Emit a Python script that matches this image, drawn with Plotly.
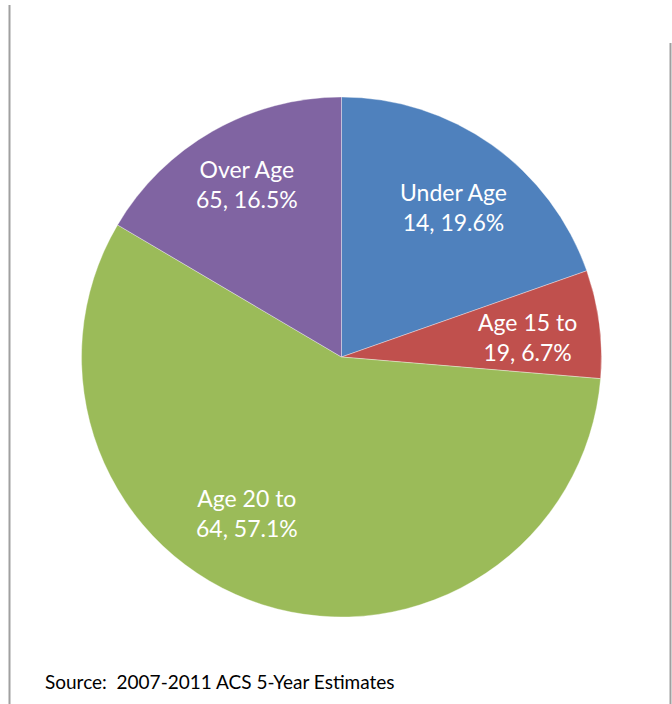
import math
import plotly.graph_objects as go

# Population share by age group
groups = ["Under Age 14", "Age 15 to 19", "Age 20 to 64", "Over Age 65"]
label_lines = [["Under Age", "14"], ["Age 15 to", "19"], ["Age 20 to", "64"], ["Over Age", "65"]]
shares = [19.6, 6.7, 57.1, 16.5]
colors = ["#4F81BD", "#C0504D", "#9BBB59", "#8064A2"]

# label placement: radial fraction and angular nudge (degrees) from each slice's mid-angle
label_radius = [0.72, 0.72, 0.70, 0.76]
label_nudge = [1.5, 1.3, 13.5, 1.0]

W, H = 672, 704
cx, cy, R = 341.5, 357.0, 260.0

fig = go.Figure(go.Pie(
    labels=groups,
    values=shares,
    sort=False,
    direction="clockwise",
    rotation=0,
    marker=dict(colors=colors, line=dict(color="rgba(255,255,255,0.45)", width=0.8)),
    textinfo="none",
    hoverinfo="label+percent",
    domain=dict(x=[(cx - R) / W, (cx + R) / W], y=[(H - cy - R) / H, (H - cy + R) / H]),
    showlegend=False,
))

total = sum(shares)
cum = 0.0
for lines, v, rf, nudge in zip(label_lines, shares, label_radius, label_nudge):
    mid = (cum + v / 2) / total * 360 + nudge
    cum += v
    px = cx + rf * R * math.sin(math.radians(mid))
    py = cy - rf * R * math.cos(math.radians(mid))
    fig.add_annotation(
        x=px / W, y=1 - py / H, xref="paper", yref="paper",
        xanchor="center", yanchor="middle",
        text=f"{lines[0]}<br>{lines[1]}, {v:.1f}%",
        showarrow=False, align="center",
        font=dict(family="Lato, Open Sans, sans-serif", size=23, color="white"),
    )

fig.add_annotation(
    x=43 / W, y=1 - 681 / H, xref="paper", yref="paper", xanchor="left", yanchor="middle",
    text="Source:  2007-2011 ACS 5-Year Estimates", showarrow=False,
    font=dict(family="Lato, Open Sans, sans-serif", size=19, color="black"),
)

# frame edges
fig.add_shape(type="line", xref="paper", yref="paper", x0=9.5 / W, x1=9.5 / W, y0=0, y1=1 - 5 / H,
              line=dict(color="#A0A0A0", width=2))
fig.add_shape(type="line", xref="paper", yref="paper", x0=670.5 / W, x1=670.5 / W, y0=0, y1=1 - 43 / H,
              line=dict(color="#A0A0A0", width=2))

fig.update_layout(
    width=W, height=H,
    margin=dict(l=0, r=0, t=0, b=0),
    paper_bgcolor="white", plot_bgcolor="white",
)

fig.write_html("out.html")
